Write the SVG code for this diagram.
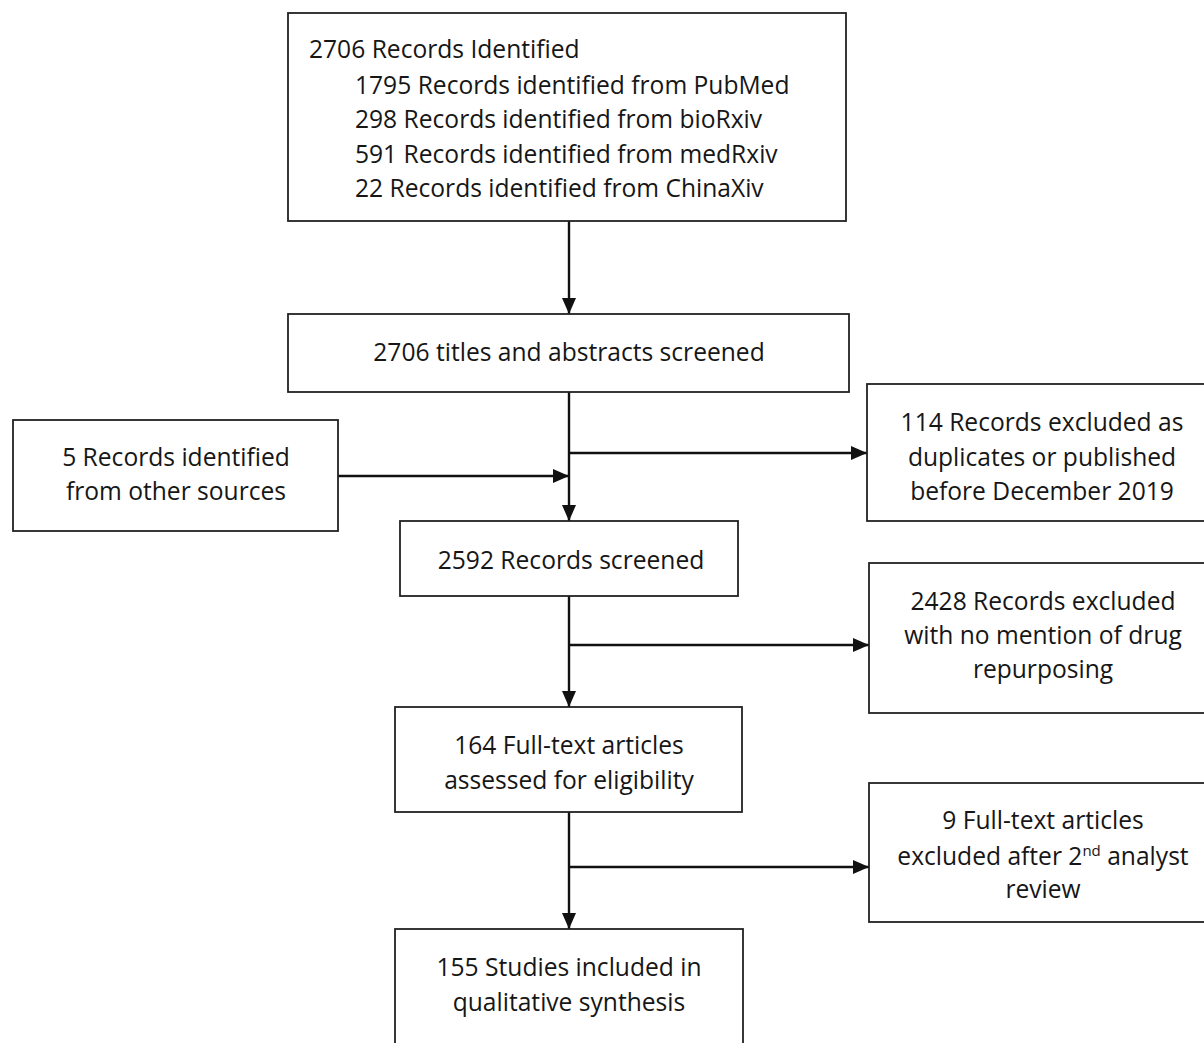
<svg xmlns="http://www.w3.org/2000/svg" width="1204" height="1043" viewBox="0 0 1204 1043">
<defs>
<marker id="ah" markerWidth="16" markerHeight="14" refX="16" refY="7" orient="auto" markerUnits="userSpaceOnUse" viewBox="0 0 16 14">
<path d="M0,0 L16,7 L0,14 z" fill="#111"/>
</marker>
</defs>
<style>
rect{fill:#fff;stroke:#222;stroke-width:1.8}
text{font-family:"Open Sans",Lato,"Liberation Sans",sans-serif;font-size:24.6px;fill:#161616}
.c{text-anchor:middle}
.ln{stroke:#111;stroke-width:2.4;fill:none}
.ar{marker-end:url(#ah)}
</style>
<rect x="0" y="0" width="1204" height="1043" style="fill:#fff;stroke:none"/>
<g id="connectors">
<line class="ln ar" x1="569" y1="221" x2="569" y2="314"/>
<line class="ln ar" x1="569" y1="392" x2="569" y2="521"/>
<line class="ln ar" x1="338" y1="476" x2="569" y2="476"/>
<line class="ln ar" x1="569" y1="453" x2="867" y2="453"/>
<line class="ln ar" x1="569" y1="596" x2="569" y2="707"/>
<line class="ln ar" x1="569" y1="645" x2="869" y2="645"/>
<line class="ln ar" x1="569" y1="812" x2="569" y2="929"/>
<line class="ln ar" x1="569" y1="867" x2="869" y2="867"/>
</g>
<g id="n1">
<rect x="288" y="13" width="558" height="208"/>
<text x="309" y="58">2706 Records Identified</text>
<text x="355" y="94">1795 Records identified from PubMed</text>
<text x="355" y="128">298 Records identified from bioRxiv</text>
<text x="355" y="163">591 Records identified from medRxiv</text>
<text x="355" y="197">22 Records identified from ChinaXiv</text>
</g>
<g id="n2">
<rect x="288" y="314" width="561" height="78"/>
<text class="c" x="569" y="361">2706 titles and abstracts screened</text>
</g>
<g id="n3">
<rect x="13" y="420" width="325" height="111"/>
<text class="c" x="176" y="466">5 Records identified</text>
<text class="c" x="176" y="500">from other sources</text>
</g>
<g id="n4">
<rect x="867" y="384" width="345" height="137"/>
<text class="c" x="1042" y="431">114 Records excluded as</text>
<text class="c" x="1042" y="466">duplicates or published</text>
<text class="c" x="1042" y="500">before December 2019</text>
</g>
<g id="n5">
<rect x="400" y="521" width="338" height="75"/>
<text class="c" x="571" y="569">2592 Records screened</text>
</g>
<g id="n6">
<rect x="869" y="563" width="345" height="150"/>
<text class="c" x="1043" y="610">2428 Records excluded</text>
<text class="c" x="1043" y="644">with no mention of drug</text>
<text class="c" x="1043" y="678">repurposing</text>
</g>
<g id="n7">
<rect x="395" y="707" width="347" height="105"/>
<text class="c" x="569" y="754">164 Full-text articles</text>
<text class="c" x="569" y="789">assessed for eligibility</text>
</g>
<g id="n8">
<rect x="869" y="783" width="345" height="139"/>
<text class="c" x="1043" y="829">9 Full-text articles</text>
<text class="c" x="1043" y="865">excluded after 2<tspan dy="-9" font-size="15">nd</tspan><tspan dy="9"> analyst</tspan></text>
<text class="c" x="1043" y="898">review</text>
</g>
<g id="n9">
<rect x="395" y="929" width="348" height="130"/>
<text class="c" x="569" y="976">155 Studies included in</text>
<text class="c" x="569" y="1011">qualitative synthesis</text>
</g>
</svg>
